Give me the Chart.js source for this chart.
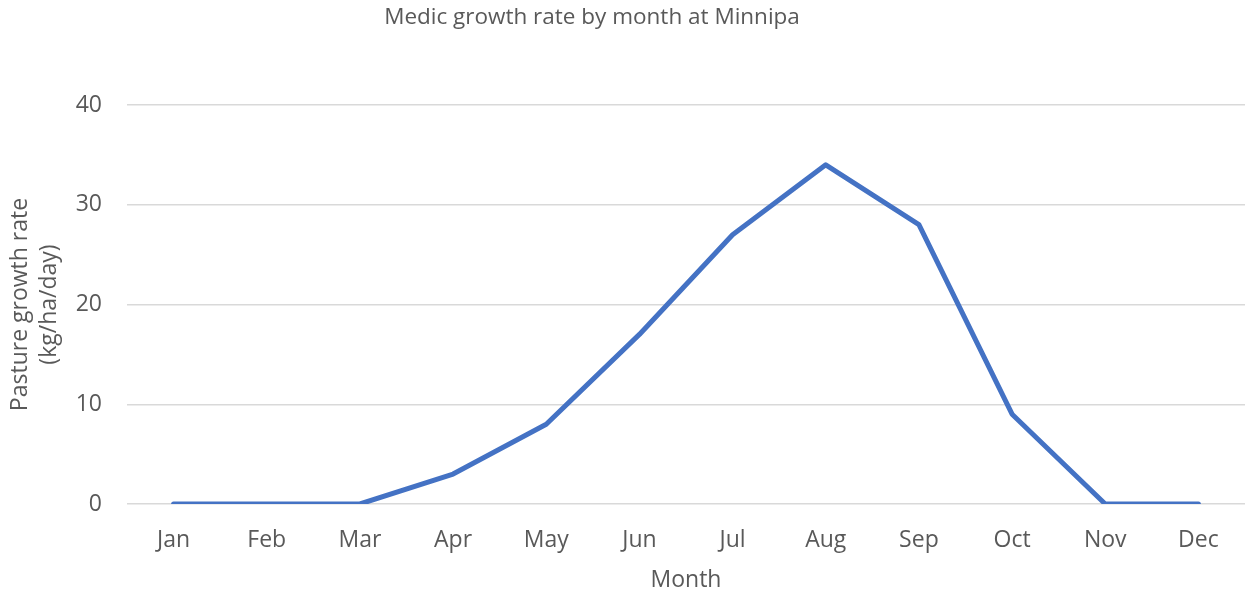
<!DOCTYPE html>
<html>
<head>
<meta charset="utf-8">
<script src="https://cdn.jsdelivr.net/npm/chart.js@4"></script>
<style>
  html, body { margin: 0; padding: 0; background: #fff; }
  #wrap { width: 1247px; height: 594px; }
</style>
</head>
<body>
<div id="wrap"><canvas id="chart" width="1247" height="594"></canvas></div>
<script>
const months = ["Jan", "Feb", "Mar", "Apr", "May", "Jun", "Jul", "Aug", "Sep", "Oct", "Nov", "Dec"];
const growthRate = [0, 0, 0, 3, 8, 17, 27, 34, 28, 9, 0, 0];
const yTicks = [0, 10, 20, 30, 40];
const chartTitle = "Medic growth rate by month at Minnipa";

const grey = "#595959";
const fontFamily = "'Open Sans', 'Liberation Sans', sans-serif";

// title sits a bit left of the canvas centre in the original, so draw it by hand
const titlePlugin = {
  id: "offsetTitle",
  afterDraw(chart) {
    const ctx = chart.ctx;
    ctx.save();
    ctx.font = `22.5px ${fontFamily}`;
    ctx.fillStyle = grey;
    ctx.textAlign = "center";
    ctx.textBaseline = "middle";
    ctx.fillText(chartTitle, 592, 18);
    ctx.restore();
  },
};

const config = {
  type: "line",
  data: {
    labels: months,
    datasets: [
      {
        label: "Medic",
        data: growthRate,
        borderColor: "#4472C4",
        borderWidth: 5,
        pointRadius: 0,
        borderCapStyle: "round",
        borderJoinStyle: "round",
        tension: 0,
      },
    ],
  },
  options: {
    responsive: false,
    animation: false,
    layout: { padding: { left: 0, right: 2, top: 105, bottom: 0 } },
    plugins: {
      legend: { display: false },
      tooltip: { enabled: false },
      title: { display: false },
    },
    scales: {
      x: {
        offset: true,
        grid: { display: false, drawTicks: false },
        border: { display: false },
        ticks: {
          color: grey,
          font: { family: fontFamily, size: 23 },
          padding: 23,
          maxRotation: 0,
        },
        title: {
          display: true,
          text: "Month",
          color: grey,
          font: { family: fontFamily, size: 23 },
          padding: { top: 0, bottom: 0 },
        },
        afterFit: (scale) => { scale.height = 90; },
      },
      y: {
        min: 0,
        max: 40,
        afterBuildTicks: (scale) => {
          scale.ticks = yTicks.map((v) => ({ value: v }));
        },
        grid: { color: "#d9d9d9", lineWidth: 1.5, drawTicks: false },
        border: { display: false },
        ticks: {
          color: grey,
          font: { family: fontFamily, size: 23 },
          padding: 25,
        },
        title: {
          display: true,
          text: ["Pasture growth rate", "(kg/ha/day)"],
          color: grey,
          font: { family: fontFamily, size: 23, lineHeight: 1.25 },
          padding: { top: 6, bottom: 0 },
        },
        afterFit: (scale) => { scale.width = 127; },
      },
    },
  },
  plugins: [titlePlugin],
};

new Chart(document.getElementById("chart"), config);
</script>
</body>
</html>
